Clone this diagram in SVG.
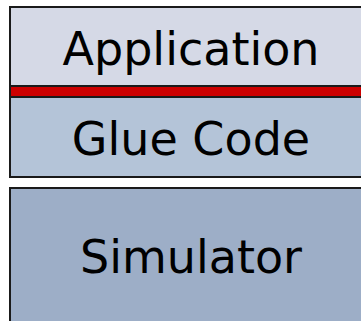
<svg xmlns="http://www.w3.org/2000/svg" width="361" height="321" viewBox="0 0 361 321">
  <style>
    .box { stroke: #1a1a1a; stroke-width: 2; }
    .label { font-family: "DejaVu Sans", Verdana, sans-serif; font-size: 46px; fill: #000; text-anchor: middle; }
  </style>
  <rect width="361" height="321" fill="#ffffff"/>
  <g id="application">
    <rect class="box" x="10" y="7" width="370" height="79" fill="#d5d9e6"/>
    <text class="label" x="191" y="65">Application</text>
  </g>
  <g id="interface">
    <rect class="box" x="10" y="86" width="370" height="11" fill="#cc0000"/>
  </g>
  <g id="glue-code">
    <rect class="box" x="10" y="97" width="370" height="80" fill="#b4c4d8"/>
    <text class="label" x="191" y="155">Glue Code</text>
  </g>
  <g id="simulator">
    <rect class="box" x="10" y="188" width="370" height="150" fill="#9daec7"/>
    <text class="label" x="191" y="273">Simulator</text>
  </g>
  <g id="connectors"/>
</svg>
